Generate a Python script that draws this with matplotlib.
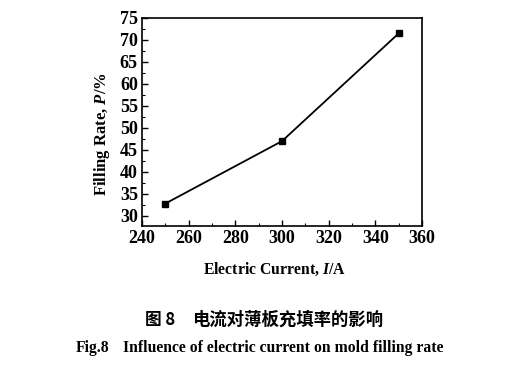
import matplotlib
matplotlib.use('Agg')
import matplotlib.pyplot as plt
from matplotlib.ticker import MultipleLocator

current = [250, 300, 350]
filling_rate = [32.8, 47.0, 71.5]

plt.rcParams['font.family'] = ['Liberation Serif', 'DejaVu Serif']
plt.rcParams['mathtext.fontset'] = 'custom'
plt.rcParams['mathtext.it'] = 'Liberation Serif:italic:bold'
plt.rcParams['mathtext.rm'] = 'Liberation Serif:bold'

fig = plt.figure(figsize=(5.24, 3.69), dpi=100)
ax = fig.add_axes([142 / 524, 1 - 226 / 369, 280 / 524, 208 / 369])

ax.plot(current, filling_rate, color='black', linewidth=1.3,
        marker='s', markersize=4)

ax.set_xlim(240, 360)
ax.set_ylim(27.7, 75)
ax.xaxis.set_major_locator(MultipleLocator(20))
ax.xaxis.set_minor_locator(MultipleLocator(10))
ax.yaxis.set_major_locator(MultipleLocator(5))
ax.yaxis.set_minor_locator(MultipleLocator(2.5))
ax.tick_params(which='both', direction='in', top=False, right=False)
ax.tick_params(which='major', length=4, width=1, labelsize=13, pad=3)
ax.tick_params(which='minor', length=2, width=0.8)
for lbl in ax.get_xticklabels() + ax.get_yticklabels():
    lbl.set_fontweight('bold')
for s in ax.spines.values():
    s.set_linewidth(1.2)

ax.set_xlabel('Electric Current, $I$/A', fontsize=11.3, fontweight='bold')
ax.set_ylabel('Filling Rate, $P$/%', fontsize=12, fontweight='bold')
ax.xaxis.set_label_coords(0.475, -0.165)
ax.yaxis.set_label_coords(-0.108, 0.44)

cjk = ['Noto Sans CJK SC', 'DejaVu Sans']
fig.text(145 / 524, 1 - 320 / 369, '图 8', ha='left', va='center',
         fontsize=12, fontweight='bold', family=cjk)
fig.text(192 / 524, 1 - 320 / 369, '电流对薄板充填率的影响', ha='left', va='center',
         fontsize=12.5, fontweight='bold', family=cjk)
fig.text(109 / 524, 1 - 348 / 369, 'Fig.8', ha='right', va='center',
         fontsize=11.3, fontweight='bold')
fig.text(123 / 524, 1 - 348 / 369, 'Influence of electric current on mold filling rate',
         ha='left', va='center', fontsize=11.3, fontweight='bold')

fig.savefig('out.png', dpi=100)
